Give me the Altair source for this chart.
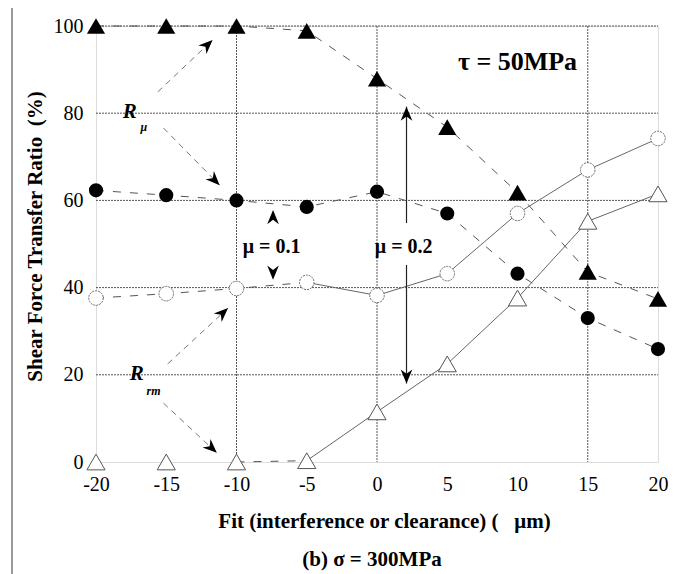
import math
import altair as alt
import pandas as pd

# ---------------- data ----------------
fit = [-20, -15, -10, -5, 0, 5, 10, 15, 20]
r_mu_02 = [100, 100, 100, 98.9, 87.9, 76.8, 61.8, 43.6, 37.4]      # filled triangles
r_mu_01 = [62.3, 61.2, 60.0, 58.5, 62.0, 57.0, 43.2, 33.0, 25.9]   # filled circles
r_rm_01 = [37.6, 38.6, 39.8, 41.2, 38.2, 43.2, 57.0, 67.0, 74.2]   # open circles
r_rm_02 = [0, 0, 0, 0.3, 11.5, 22.5, 37.6, 55.2, 61.5]             # open triangles

h_grid = [20, 40, 60, 80, 100]
v_grid = [-10, 0, 15]
x_ticks = [-20, -15, -10, -5, 0, 5, 10, 15, 20]
y_ticks = [0, 20, 40, 60, 80, 100]

# annotation arrows (start x, start y, tip x, tip y)
dash_arrows = [
    (-15.6, 84.9, -11.7, 96.8),
    (-15.2, 76.6, -11.2, 63.5),
    (-14.9, 22.5, -10.6, 35.3),
    (-15.2, 13.5, -11.4, 2.1),
]
solid_arrows = [
    (2.1, 54.8, 2.1, 81.5),
    (2.1, 45.2, 2.1, 18.0),
]
chevrons = [(-7.4, 57.8, 0), (-7.4, 41.8, 180)]

W, H = 562, 436
PX = W / 40.0
PY = H / 100.0
SERIF = "Liberation Serif"

xs = alt.Scale(domain=[-20, 20], nice=False, zero=False)
ys = alt.Scale(domain=[0, 100], nice=False, zero=False)

# ---------------- tables ----------------
pts = pd.DataFrame({
    "x": fit * 4,
    "y": r_mu_02 + r_mu_01 + r_rm_01 + r_rm_02,
    "s": ["ft"] * 9 + ["fc"] * 9 + ["oc"] * 9 + ["ot"] * 9,
})

dash_rows = []
solid_rows = []
for i, xv in enumerate(fit):
    dash_rows.append({"g": "ft", "x": xv, "y": r_mu_02[i]})
    dash_rows.append({"g": "fc", "x": xv, "y": r_mu_01[i]})
    if xv <= -5:
        dash_rows.append({"g": "oc", "x": xv, "y": r_rm_01[i]})
    if xv >= -5:
        solid_rows.append({"g": "oc", "x": xv, "y": r_rm_01[i]})
        solid_rows.append({"g": "ot", "x": xv, "y": r_rm_02[i]})
    if -10 <= xv <= -5:
        dash_rows.append({"g": "ot", "x": xv, "y": r_rm_02[i]})
dash_df = pd.DataFrame(dash_rows)
solid_df = pd.DataFrame(solid_rows)


def arrow_df(lst):
    rows = []
    for (x1, y1, x2, y2) in lst:
        ang = math.degrees(math.atan2((x2 - x1) * PX, (y2 - y1) * PY)) % 360
        rows.append({"x": x1, "y": y1, "x2": x2, "y2": y2, "a": ang})
    return pd.DataFrame(rows)


da = arrow_df(dash_arrows)
sa = arrow_df(solid_arrows)
ch = pd.DataFrame([{"x": c[0], "y": c[1], "a": c[2]} for c in chevrons])
head_df = pd.concat([da[["x2", "y2", "a"]].rename(columns={"x2": "x", "y2": "y"}),
                     sa[["x2", "y2", "a"]].rename(columns={"x2": "x", "y2": "y"}),
                     ch], ignore_index=True)

HEAD = "M0,0 L0.6,1.45 L0,1.0 L-0.6,1.45 Z"

# ---------------- layers ----------------
frame = alt.Chart(pd.DataFrame({"k": [0]})).mark_rect(
    fill=None, stroke="#9a9a9a", strokeWidth=2
).encode(x=alt.value(-84), x2=alt.value(577), y=alt.value(-19), y2=alt.value(600))

hg = alt.Chart(pd.DataFrame({"y": h_grid})).mark_rule(
    color="#555", strokeWidth=1, strokeDash=[2, 1]
).encode(
    y=alt.Y("y:Q", scale=ys,
            axis=alt.Axis(values=y_ticks, labelExpr="'' + datum.value",
                          labelPadding=13, labelFlush=False,
                          title="Shear Force Transfer Ratio\u00a0\u00a0(%)",
                          titleFontSize=21, titleX=-61, titleY=210,
                          titleAngle=270, titleBaseline="middle", titleAlign="center")),
    x=alt.value(0), x2=alt.value(W),
)

vg = alt.Chart(pd.DataFrame({"x": v_grid})).mark_rule(
    color="#555", strokeWidth=1, strokeDash=[2, 1]
).encode(
    x=alt.X("x:Q", scale=xs,
            axis=alt.Axis(values=x_ticks, labelExpr="'' + datum.value",
                          labelPadding=12, labelFlush=False,
                          title="Fit (interference or clearance) (\u00a0\u00a0\u00a0μm)",
                          titleFontSize=21, titleX=288, titleY=59,
                          titleBaseline="middle", titleAlign="center")),
    y=alt.value(0), y2=alt.value(H),
)

dash_lines = alt.Chart(dash_df).mark_line(
    color="#555", strokeWidth=1, strokeDash=[8, 9]
).encode(x=alt.X("x:Q", scale=xs), y=alt.Y("y:Q", scale=ys), detail="g:N")

solid_lines = alt.Chart(solid_df).mark_line(
    color="#666", strokeWidth=1
).encode(x=alt.X("x:Q", scale=xs), y=alt.Y("y:Q", scale=ys), detail="g:N")

ft = alt.Chart(pts[pts.s == "ft"]).mark_point(
    shape="triangle-up", size=330, filled=True, color="black", opacity=1
).encode(x=alt.X("x:Q", scale=xs), y=alt.Y("y:Q", scale=ys))

fc = alt.Chart(pts[pts.s == "fc"]).mark_point(
    shape="circle", size=200, filled=True, color="black", opacity=1
).encode(x=alt.X("x:Q", scale=xs), y=alt.Y("y:Q", scale=ys))

oc = alt.Chart(pts[pts.s == "oc"]).mark_point(
    shape="circle", size=210, fill="white", stroke="#666", strokeWidth=1,
    strokeDash=[2, 1], opacity=1, fillOpacity=1
).encode(x=alt.X("x:Q", scale=xs), y=alt.Y("y:Q", scale=ys))

ot = alt.Chart(pts[pts.s == "ot"]).mark_point(
    shape="triangle-up", size=330, fill="white", stroke="#555", strokeWidth=1,
    opacity=1, fillOpacity=1
).encode(x=alt.X("x:Q", scale=xs), y=alt.Y("y:Q", scale=ys))

dash_ar = alt.Chart(da).mark_rule(
    color="#777", strokeWidth=1, strokeDash=[6, 5]
).encode(x=alt.X("x:Q", scale=xs), y=alt.Y("y:Q", scale=ys), x2="x2:Q", y2="y2:Q")

solid_ar = alt.Chart(sa).mark_rule(
    color="#222", strokeWidth=1.2
).encode(x=alt.X("x:Q", scale=xs), y=alt.Y("y:Q", scale=ys), x2="x2:Q", y2="y2:Q")

heads = alt.Chart(head_df).mark_point(
    shape=HEAD, size=380, filled=True, color="black", opacity=1
).encode(x=alt.X("x:Q", scale=xs), y=alt.Y("y:Q", scale=ys), angle=alt.Angle("a:Q", scale=None))

labels = pd.DataFrame([
    {"x": 10.0, "y": 91.7, "t": "τ = 50MPa", "fs": 26, "st": "normal"},
    {"x": -7.5, "y": 49.3, "t": "μ = 0.1", "fs": 20, "st": "normal"},
    {"x": 1.9, "y": 49.3, "t": "μ = 0.2", "fs": 20, "st": "normal"},
    {"x": -17.6, "y": 80.2, "t": "R", "fs": 21, "st": "italic"},
    {"x": -17.1, "y": 20.2, "t": "R", "fs": 21, "st": "italic"},
    {"x": -16.6, "y": 76.8, "t": "μ", "fs": 12, "st": "italic"},
    {"x": -15.9, "y": 16.2, "t": "rm", "fs": 12, "st": "italic"},
])

txt_n = alt.Chart(labels[labels.st == "normal"]).mark_text(
    font=SERIF, fontWeight="bold", color="black", align="center", baseline="middle"
).encode(x=alt.X("x:Q", scale=xs), y=alt.Y("y:Q", scale=ys), text="t:N",
         size=alt.Size("fs:Q", scale=None, legend=None))

txt_i = alt.Chart(labels[labels.st == "italic"]).mark_text(
    font=SERIF, fontWeight="bold", fontStyle="italic", color="black",
    align="center", baseline="middle"
).encode(x=alt.X("x:Q", scale=xs), y=alt.Y("y:Q", scale=ys), text="t:N",
         size=alt.Size("fs:Q", scale=None, legend=None))

caption = alt.Chart(pd.DataFrame({"t": ["(b) σ = 300MPa"]})).mark_text(
    font=SERIF, fontWeight="bold", fontSize=21, color="black",
    align="center", baseline="middle"
).encode(text="t:N", x=alt.value(276), y=alt.value(534))

chart = alt.layer(
    frame, hg, vg, dash_lines, solid_lines, dash_ar, solid_ar,
    ot, oc, fc, ft, heads, txt_n, txt_i, caption
).properties(
    width=W, height=H,
    autosize=alt.AutoSizeParams(type="none"),
    padding={"left": 88, "top": 18, "right": 13, "bottom": 112},
).configure_view(stroke=None).configure(background="white").configure_axis(
    grid=False, domain=False, ticks=False,
    labelFont=SERIF, labelFontSize=20, labelColor="black",
    titleFont=SERIF, titleFontWeight="bold", titleColor="black",
)

chart.save("out.html", embed_options={"renderer": "svg", "actions": False})
